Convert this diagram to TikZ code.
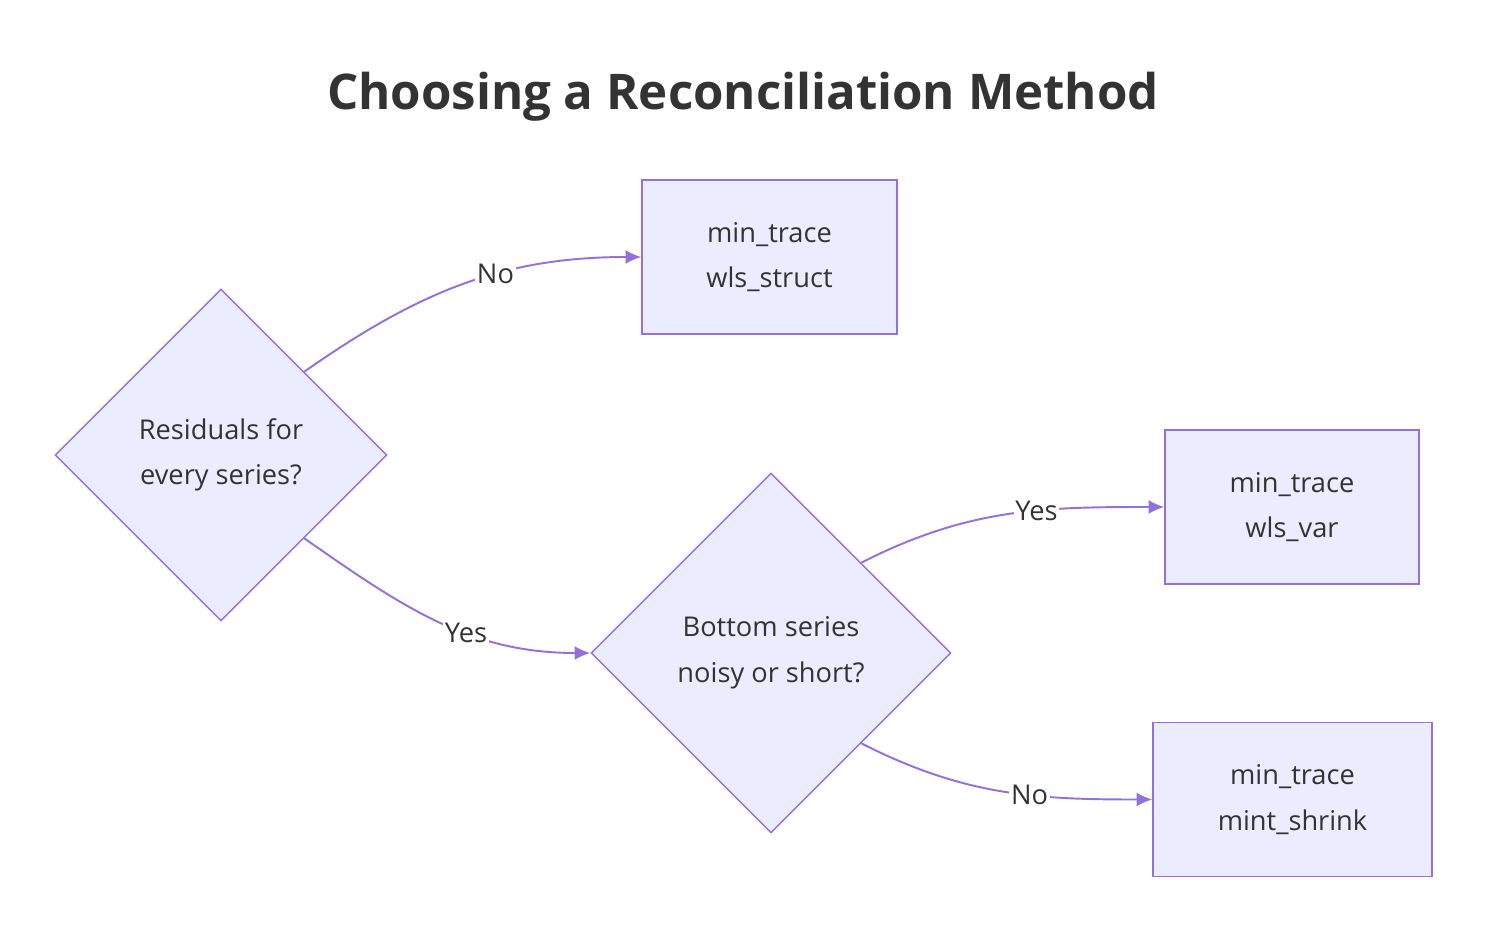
\documentclass[tikz,border=0pt]{standalone}
\usepackage{fontspec}
\setmainfont{Open Sans}
\usetikzlibrary{shapes.geometric,arrows.meta}
\definecolor{nodefill}{HTML}{ECECFF}
\definecolor{nodeline}{HTML}{9370DB}
\definecolor{ink}{HTML}{333333}

\begin{document}
\begin{tikzpicture}
            [x=0.02cm,y=-0.02cm,thick,every node/.style={text=ink,font=\fontsize{15.5}{26}\selectfont},
             box/.style={draw=nodeline,fill=nodefill,minimum height=3.08cm,align=center},
             choice/.style={diamond,draw=nodeline,fill=nodefill,shape aspect=1,inner sep=0pt,align=center},
             link/.style={draw=nodeline,line width=1.1pt,-{Latex[length=9pt,width=8pt]}},
             tag/.style={fill=white,inner sep=1pt}]
            \useasboundingbox (0,0) rectangle (1504,942);
            \node[font=\fontsize{28}{34}\selectfont\bfseries] (title) at (743,97) {Choosing a Reconciliation Method};
            % decisions
            \node[choice,minimum width=6.64cm,minimum height=6.64cm] (resid) at (221,455) {Residuals for\\every series?};
            \node[choice,minimum width=7.2cm,minimum height=7.2cm] (noisy) at (771,653) {Bottom series\\noisy or short?};
            % methods
            \node[box,minimum width=5.1cm] (struct) at (769.5,257) {min\_trace\\wls\_struct};
            \node[box,minimum width=5.08cm] (var) at (1292,507) {min\_trace\\wls\_var};
            \node[box,minimum width=5.58cm] (shrink) at (1292.5,799.5) {min\_trace\\mint\_shrink};
            % connectors
            \draw[link] (resid.north east) to[out=35,in=180] node[tag,pos=0.6] {No} (struct.west);
            \draw[link] (resid.south east) to[out=-35,in=180] node[tag,pos=0.6] {Yes} (noisy.west);
            \draw[link] (noisy.north east) to[out=27,in=180] node[tag,pos=0.6] {Yes} (var.west);
            \draw[link] (noisy.south east) to[out=-27,in=180] node[tag,pos=0.6] {No} (shrink.west);
        \end{tikzpicture}
\end{document}
